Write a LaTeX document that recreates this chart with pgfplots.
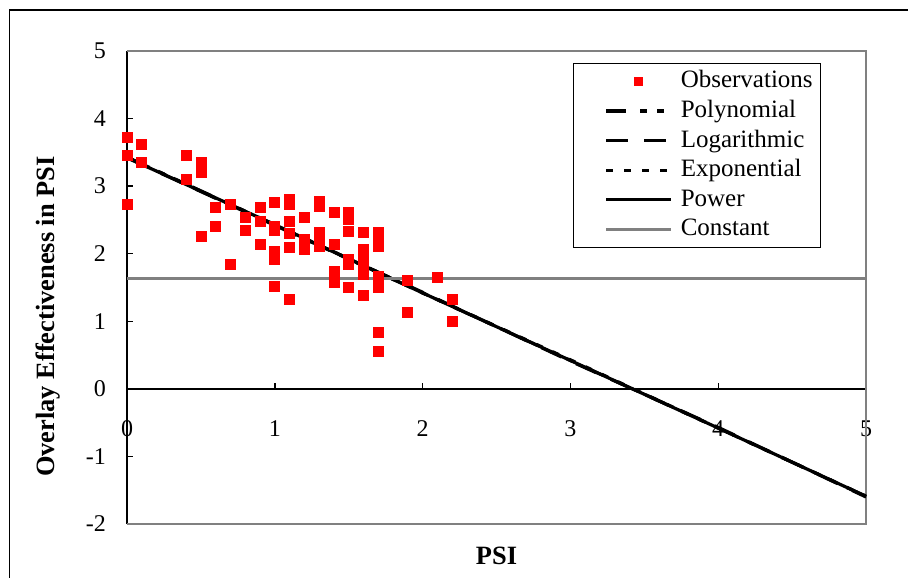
\documentclass[border=0pt]{standalone}
\usepackage{pgfplots}
\pgfplotsset{compat=1.18}
\usepackage{fontspec}
\setmainfont{Liberation Serif}

\definecolor{obsred}{RGB}{255,0,0}
\definecolor{framegray}{RGB}{128,128,128}

\pgfplotsset{
    trendline legend/.style={legend image code/.code={\path (0pt,0pt); \draw[##1] (12.5pt,0pt) -- (45pt,0pt);}},
    obsmark legend/.style={legend image code/.code={\path (0pt,0pt) (45pt,0pt);
        \draw[mark repeat=2, mark phase=2, mark size=2pt, ##1]
        plot coordinates {(12.5pt,0pt)(28.75pt,0pt)(45pt,0pt)};}},
}

\begin{document}
\begin{tikzpicture}[font=\fontsize{12}{14}\selectfont]
\useasboundingbox (0,0) rectangle (454pt,288.5pt);
% outer chart frame (right and bottom edges fall outside the picture)
\draw[line width=0.8pt] (4.8pt,-2pt) -- (4.8pt,283.6pt) -- (460pt,283.6pt);

\begin{axis}[
    at={(63.5pt,26.5pt)}, anchor=south west,
    scale only axis,
    width=369.5pt, height=236.5pt,
    xmin=0, xmax=5,
    ymin=-2, ymax=5,
    xtick={0,1,2,3,4,5},
    ytick={-2,-1,0,1,2,3,4,5},
    axis x line=middle,
    axis y line=left,
    axis line style={-, line width=0.7pt},
    hide obscured x ticks=false,
    hide obscured y ticks=false,
    tick align=inside,
    major tick length=3pt,
    tick style={line width=0.7pt, black},
    /pgf/number format/assume math mode=true,
    tick label style={font=\fontsize{12}{14}\selectfont},
    xticklabel style={yshift=-12.45pt},
    yticklabel style={xshift=-7pt},
    xlabel={\textbf{PSI}},
    ylabel={\textbf{Overlay Effectiveness in PSI}},
    label style={font=\fontsize{13.2}{15}\selectfont},
    xlabel style={at={(axis description cs:0.5,-0.0677)}, anchor=center},
    ylabel style={at={(axis description cs:-0.107,0.4386)}, anchor=center},
    clip=false,
    legend cell align=left,
    legend style={
        at={(axis description cs:0.6035,0.9746)}, anchor=north west,
        draw=black, line width=0.6pt,
        inner xsep=3pt, inner ysep=1.5pt,
        row sep=0pt, column sep=3pt,
        nodes={inner sep=1pt, text height=9.6pt, text depth=3.2pt},
        font=\fontsize{12.5}{14}\selectfont,
    },
    trendline legend,
]

% gray plot-area border (top, right, bottom)
\draw[framegray, line width=0.6pt]
    (rel axis cs:0,0) -- (rel axis cs:1,0) -- (rel axis cs:1,1) -- (rel axis cs:0,1);

\addplot[
    only marks, mark=square*, mark size=2.5pt,
    mark options={draw=obsred, fill=obsred},
    obsmark legend,
    ]
    coordinates {
    (0,3.72)(0,3.45)(0,2.73)
    (0.1,3.62)(0.1,3.35)
    (0.4,3.45)(0.4,3.10)
    (0.5,3.35)(0.5,3.20)(0.5,2.26)
    (0.6,2.69)(0.6,2.41)
    (0.7,2.73)(0.7,1.84)
    (0.8,2.54)(0.8,2.34)
    (0.9,2.69)(0.9,2.48)(0.9,2.14)
    (1.0,2.76)(1.0,2.41)(1.0,2.35)(1.0,2.03)(1.0,1.92)(1.0,1.52)
    (1.1,2.81)(1.1,2.73)(1.1,2.48)(1.1,2.30)(1.1,2.09)(1.1,1.33)
    (1.2,2.54)(1.2,2.21)(1.2,2.06)
    (1.3,2.78)(1.3,2.70)(1.3,2.31)(1.3,2.21)(1.3,2.11)
    (1.4,2.61)(1.4,2.14)(1.4,1.74)(1.4,1.57)
    (1.5,2.61)(1.5,2.51)(1.5,2.33)(1.5,1.91)(1.5,1.84)(1.5,1.50)
    (1.6,2.31)(1.6,2.06)(1.6,1.91)(1.6,1.81)(1.6,1.69)(1.6,1.39)
    (1.7,2.31)(1.7,2.17)(1.7,2.11)(1.7,1.66)(1.7,1.50)(1.7,0.83)(1.7,0.55)
    (1.9,1.60)(1.9,1.13)
    (2.1,1.65)
    (2.2,1.32)(2.2,1.00)
    };
\addlegendentry{Observations}

\addplot[black, line width=1.6pt,
    dash pattern=on 10pt off 7pt on 3.5pt off 5pt on 3.5pt off 7pt]
    coordinates {(0,3.43)(1,2.43)(2,1.42)(3,0.42)(4,-0.58)(5,-1.59)};
\addlegendentry{Polynomial}

\addplot[black, line width=1.6pt, dash pattern=on 11pt off 8pt]
    coordinates {(0,3.42)(1,2.42)(2,1.43)(3,0.41)(4,-0.57)(5,-1.60)};
\addlegendentry{Logarithmic}

\addplot[black, line width=1.6pt, dash pattern=on 3.5pt off 5.5pt]
    coordinates {(0,3.43)(1,2.42)(2,1.42)(3,0.43)(4,-0.58)(5,-1.59)};
\addlegendentry{Exponential}

\addplot[black, line width=1.6pt]
    coordinates {(0,3.42)(1,2.43)(2,1.42)(3,0.42)(4,-0.58)(5,-1.59)};
\addlegendentry{Power}

\addplot[framegray, line width=1.6pt]
    coordinates {(0,1.63)(5,1.63)};
\addlegendentry{Constant}

\end{axis}
\end{tikzpicture}
\end{document}
